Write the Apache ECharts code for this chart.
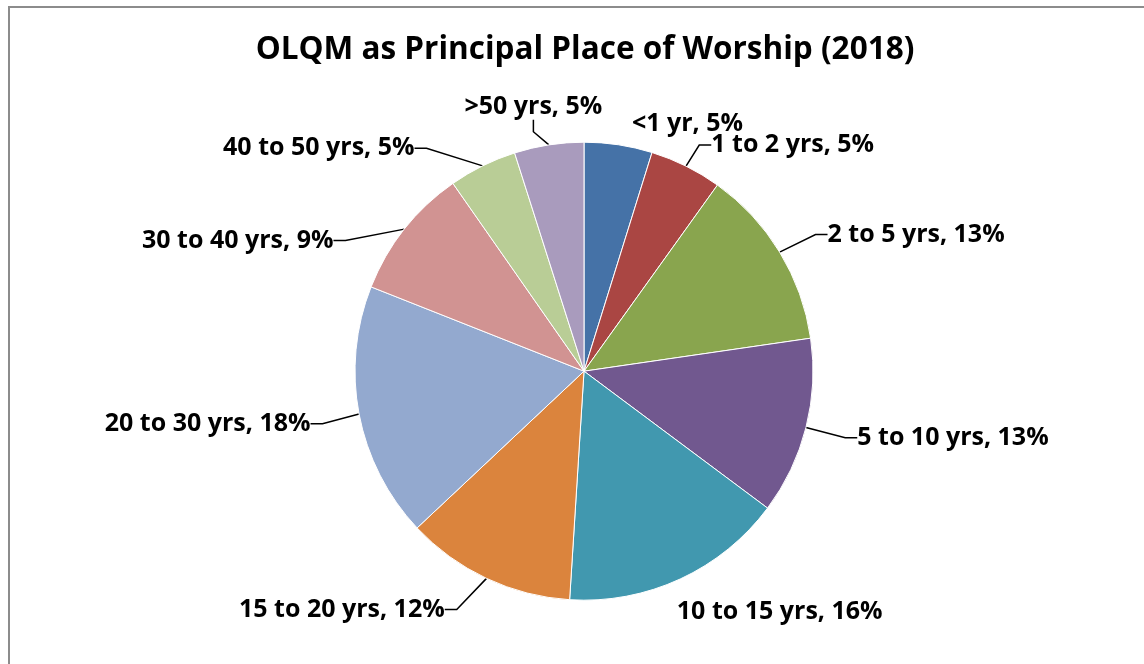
<!DOCTYPE html>
<html>
<head>
<meta charset="utf-8">
<script src="https://cdn.jsdelivr.net/npm/echarts@6/dist/echarts.min.js"></script>
<style>
html,body{margin:0;padding:0;background:#fff;}
#frame{position:absolute;left:8px;top:6px;width:1150px;height:670px;border:2px solid #8c8c8c;box-sizing:border-box;}
#chart{position:absolute;left:0;top:0;width:1144px;height:664px;}
</style>
</head>
<body>
<div id="frame"></div>
<div id="chart"></div>
<script>
const titleText = 'OLQM as Principal Place of Worship (2018)';
const categories = ['<1 yr', '1 to 2 yrs', '2 to 5 yrs', '5 to 10 yrs', '10 to 15 yrs', '15 to 20 yrs', '20 to 30 yrs', '30 to 40 yrs', '40 to 50 yrs', '>50 yrs'];
const values = [4.8, 5.1, 12.8, 12.5, 15.8, 12.0, 18.0, 9.3, 4.8, 4.9];
const pctLabels = ['5%', '5%', '13%', '13%', '16%', '12%', '18%', '9%', '5%', '5%'];
const colors = ['#4572A7', '#AA4643', '#89A54E', '#71588F', '#4198AF', '#DB843D', '#93A9CF', '#D19392', '#B9CD96', '#A99BBD'];
// label nudges (layout only), relative to ECharts' default label placement
const labelNudge = [[-8, 9], [-7, 3], [10, -2], [10, 3], [-33, 6], [-12, 4], [-7, 4], [-35, 30], [-35, 6], [75, -8]];
const hideLine = [true, false, false, false, true, false, false, false, false, false];

const chart = echarts.init(document.getElementById('chart'), null, {renderer: 'canvas'});
const fontFam = '"Open Sans", Lato, "Liberation Sans", sans-serif';
chart.setOption({
  animation: false,
  title: {
    text: titleText,
    left: 580,
    textAlign: 'center',
    top: 29,
    textStyle: {fontFamily: fontFam, fontWeight: 'bold', fontSize: 31.5, color: '#000'}
  },
  series: [{
    type: 'pie',
    center: ['51.05%', '55.9%'],
    radius: 229,
    startAngle: 90,
    clockwise: true,
    data: categories.map((c, i) => ({
      name: c, value: values[i], itemStyle: {color: colors[i]},
      labelLine: {show: !hideLine[i]}
    })),
    itemStyle: {borderColor: '#fff', borderWidth: 1},
    label: {
      show: true,
      position: 'outside',
      fontFamily: fontFam,
      fontWeight: 'bold',
      fontSize: 25,
      color: '#000',
      formatter: p => p.name + ', ' + pctLabels[p.dataIndex]
    },
    labelLine: {
      show: true,
      length: 30,
      length2: 12,
      lineStyle: {color: '#000', width: 1.5}
    },
    labelLayout: function (params) {
      const n = labelNudge[params.dataIndex];
      return {
        x: params.labelRect.x + n[0],
        y: params.labelRect.y + n[1],
        align: 'left',
        verticalAlign: 'top'
      };
    }
  }]
});
</script>
</body>
</html>
